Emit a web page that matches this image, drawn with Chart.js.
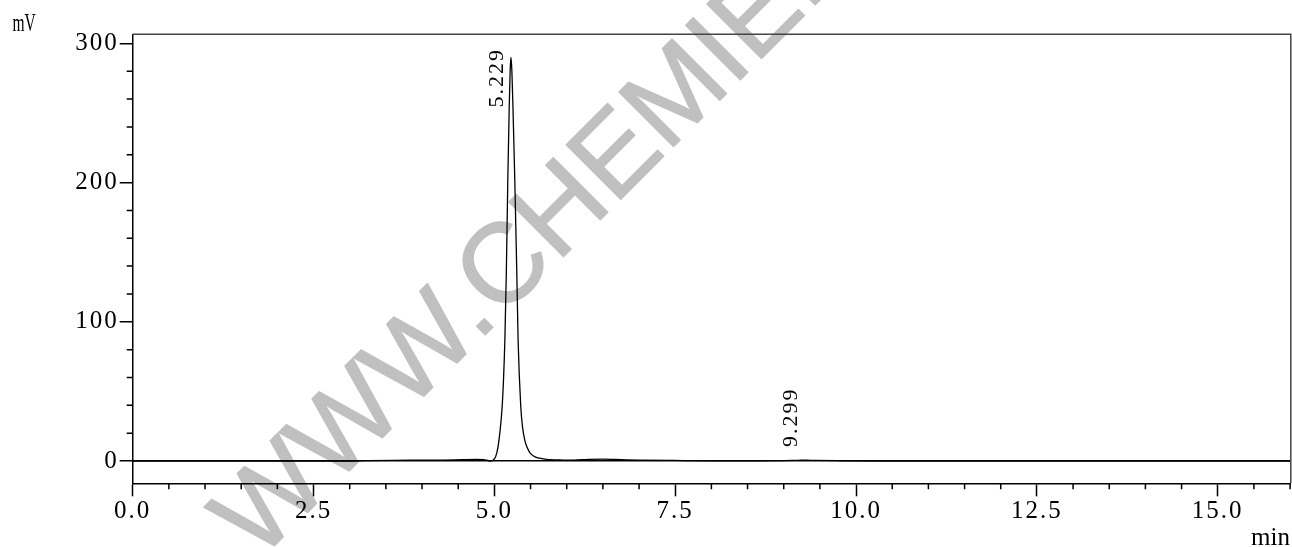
<!DOCTYPE html>
<html>
<head>
<meta charset="utf-8">
<title>Chromatogram</title>
<script src="https://cdn.jsdelivr.net/npm/chart.js@4.4.1/dist/chart.umd.min.js"></script>
<style>
  html, body { margin: 0; padding: 0; background: #fff; }
  #wrap { width: 1292px; height: 547px; }
</style>
</head>
<body>
<div id="wrap"><canvas id="chart" width="1292" height="547"></canvas></div>
<script>
// retention time (min) / detector signal (mV)
const TIME = [
  0.00, 1.00, 2.00, 3.00, 3.25, 3.60, 4.00, 4.30, 4.55, 4.75, 4.85, 4.92, 4.95,
  4.99, 5.02, 5.05, 5.075, 5.105, 5.125, 5.145, 5.165, 5.185, 5.205, 5.218, 5.229,
  5.242, 5.257, 5.283, 5.31, 5.328, 5.365, 5.39, 5.425, 5.455, 5.49, 5.54, 5.62, 5.72,
  5.95, 6.10, 6.30, 6.50, 6.75, 7.00, 7.50, 8.00, 8.60, 9.00, 9.20, 9.30, 9.45, 9.80,
  10.40, 12.00, 16.01
];
const SIGNAL = [
  0.0, 0.0, 0.0, 0.0, 0.3, 0.5, 0.6, 0.7, 1.0, 1.2, 1.0, 0.2, 0.0,
  1.0, 3.5, 10, 20, 37, 57, 87, 135, 200, 254, 280, 290,
  280, 254, 200, 135, 87, 39, 24, 14, 9.5, 6.0, 3.6, 2.0, 1.2,
  0.7, 0.6, 1.2, 1.3, 1.0, 0.7, 0.4, 0.2, 0.2, 0.3, 0.5, 0.6, 0.4, 0.2,
  0.0, 0.0, 0.0
];

// axes
const X_TICKS = [0, 2.5, 5, 7.5, 10, 12.5, 15];
const X_MINOR = [0.5, 1, 1.5, 2, 3, 3.5, 4, 4.5, 5.5, 6, 6.5, 7, 8, 8.5, 9, 9.5,
                 10.5, 11, 11.5, 12, 13, 13.5, 14, 14.5, 15.5, 16];
const Y_TICKS = [0, 100, 200, 300];
const Y_MINOR = [20, 40, 60, 80, 120, 140, 160, 180, 220, 240, 260, 280];

// peak annotations: retention time and the mV level where the label starts
const PEAK_TIMES = [5.229, 9.299];
const PEAK_LABEL_Y = [254, 10];

const SERIF = '"Liberation Serif", "DejaVu Serif", serif';

// gray diagonal watermark, behind everything
const watermark = {
  id: 'watermark',
  beforeDraw(chart) {
    const ctx = chart.ctx;
    ctx.save();
    ctx.translate(258, 562);
    ctx.rotate(-45 * Math.PI / 180);
    ctx.font = '112px "Liberation Sans", Arial, sans-serif';
    ctx.fillStyle = '#c0c0c0';
    ctx.strokeStyle = '#c0c0c0';
    ctx.lineWidth = 1.5;
    ctx.lineJoin = 'round';
    ctx.textBaseline = 'alphabetic';
    ctx.fillText('WWW.CHEMIE.', 0, 0);
    ctx.strokeText('WWW.CHEMIE.', 0, 0);
    ctx.restore();
    // wide-looking digits like the original instrument font
    ctx.letterSpacing = '2px';
  }
};

// minor ticks, frame, peak labels, unit captions
const decorations = {
  id: 'decorations',
  afterDraw(chart) {
    const { ctx, chartArea: a, scales: { x, y } } = chart;
    ctx.save();
    ctx.strokeStyle = '#000';
    ctx.lineWidth = 1.5;
    ctx.beginPath();
    X_MINOR.forEach(v => {
      const px = x.getPixelForValue(v);
      ctx.moveTo(px, a.bottom);
      ctx.lineTo(px, a.bottom + 6);
    });
    Y_MINOR.forEach(v => {
      const py = y.getPixelForValue(v);
      ctx.moveTo(a.left, py);
      ctx.lineTo(a.left - 6, py);
    });
    ctx.stroke();

    ctx.strokeStyle = '#444';
    ctx.beginPath();
    ctx.moveTo(a.left, a.top);
    ctx.lineTo(a.right, a.top);
    ctx.lineTo(a.right, a.bottom);
    ctx.stroke();

    ctx.fillStyle = '#000';
    ctx.letterSpacing = '2px';
    ctx.font = '22px ' + SERIF;
    ctx.textAlign = 'left';
    ctx.textBaseline = 'alphabetic';
    PEAK_TIMES.forEach((t, i) => {
      const px = x.getPixelForValue(t) - 8;
      const py = y.getPixelForValue(PEAK_LABEL_Y[i]);
      ctx.save();
      ctx.translate(px, py);
      ctx.rotate(-Math.PI / 2);
      ctx.fillText(t.toFixed(3), 0, 0);
      ctx.restore();
    });

    ctx.letterSpacing = '0px';
    ctx.font = '25px ' + SERIF;
    ctx.save();
    ctx.translate(12.5, 30.5);
    ctx.scale(0.62, 1);
    ctx.fillText('mV', 0, 0);
    ctx.restore();
    ctx.textAlign = 'right';
    ctx.fillText('min', 1290, 545);
    ctx.restore();
  }
};

const ctx = document.getElementById('chart').getContext('2d');
const chart = new Chart(ctx, {
  type: 'line',
  data: {
    datasets: [{
      data: TIME.map((t, i) => ({ x: t, y: SIGNAL[i] })),
      borderColor: '#000',
      borderWidth: 1.3,
      pointRadius: 0,
      fill: false,
      cubicInterpolationMode: 'monotone',
    }]
  },
  options: {
    responsive: false,
    animation: false,
    devicePixelRatio: 1,
    layout: { padding: { top: 34.3, right: 1.2, left: 0, bottom: 0 } },
    plugins: {
      legend: { display: false },
      tooltip: { enabled: false },
    },
    scales: {
      x: {
        type: 'linear',
        min: 0,
        max: 16.01,
        afterBuildTicks: axis => { axis.ticks = X_TICKS.map(v => ({ value: v })); },
        afterFit: axis => { axis.height = 63.7; },
        border: { display: true, color: '#000', width: 1.5 },
        grid: { drawOnChartArea: false, drawTicks: true, tickLength: 13, tickColor: '#000', tickWidth: 1.5 },
        ticks: {
          padding: 0,
          maxRotation: 0,
          autoSkip: false,
          color: '#000',
          font: { family: SERIF, size: 25 },
          callback: v => Number(v).toFixed(1),
        }
      },
      y: {
        min: -16,
        max: 306.5,
        afterBuildTicks: axis => { axis.ticks = Y_TICKS.map(v => ({ value: v })); },
        afterFit: axis => { axis.width = 132.7; },
        border: { display: true, color: '#000', width: 1.5 },
        grid: {
          drawOnChartArea: true,
          drawTicks: true,
          tickLength: 13,
          tickColor: '#000',
          tickWidth: 1.5,
          lineWidth: 1.5,
          color: c => (c.tick && c.tick.value === 0 ? '#000' : 'rgba(0,0,0,0)'),
        },
        ticks: {
          padding: 1,
          autoSkip: false,
          color: '#000',
          font: { family: SERIF, size: 25 },
          callback: v => String(v),
        }
      }
    }
  },
  plugins: [watermark, decorations]
});
</script>
</body>
</html>
